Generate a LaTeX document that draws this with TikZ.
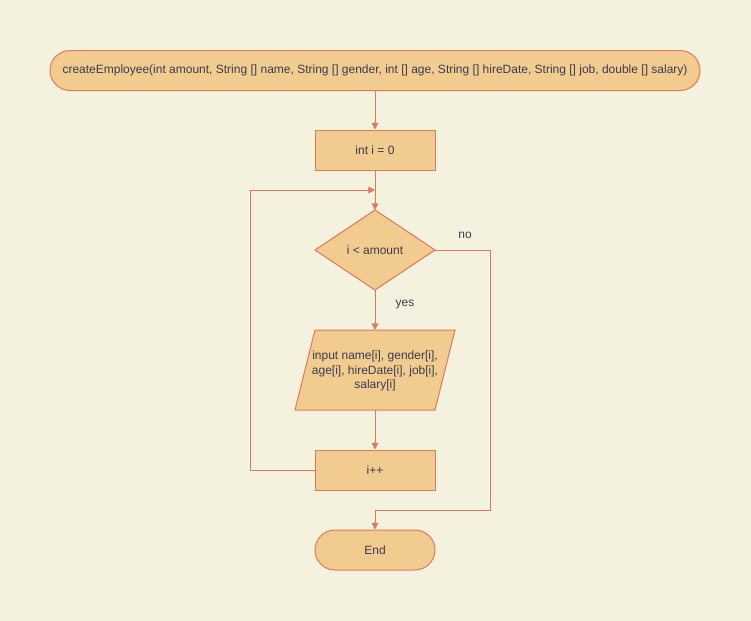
\documentclass[tikz,border=0pt]{standalone}
\usepackage{fontspec}
\setmainfont{Liberation Sans}
\usetikzlibrary{arrows.meta}
\definecolor{bg}{HTML}{F4F1DE}
\definecolor{boxfill}{HTML}{F2CC8F}
\definecolor{boxline}{HTML}{E07A5F}
\definecolor{txt}{HTML}{393C56}
\tikzset{
  box/.style={draw=boxline, fill=boxfill, line width=0.75pt, text=txt, font=\fontsize{9}{10.5}\selectfont, inner sep=0pt, minimum height=30pt, minimum width=90pt},
  term/.style={box, rounded corners=15pt},
  conn/.style={draw=boxline, line width=0.75pt, -{Triangle[width=5pt,length=5pt]}},
  plain/.style={draw=boxline, line width=0.75pt},
  lbl/.style={text=txt, font=\fontsize{9}{10.5}\selectfont, inner sep=0pt}
}
\begin{document}
\begin{tikzpicture}[x=0.75pt,y=-0.75pt]
\fill[bg] (0,0) rectangle (751,621);
\useasboundingbox (0,0) rectangle (751,621);
\node[term, minimum width=487.5pt] (start) at (375,70.5) {createEmployee(int amount, String [] name, String [] gender, int [] age, String [] hireDate, String [] job, double [] salary)};
\node[box] (init) at (375,150) {int i = 0};
\coordinate (dT) at (375,210);
\coordinate (dR) at (435,250);
\coordinate (dB) at (375,290);
\coordinate (dL) at (315,250);
\draw[plain, fill=boxfill] (dT) -- (dR) -- (dB) -- (dL) -- cycle;
\node[lbl] (cond) at (375,250.5) {i < amount};
\coordinate (pT) at (375,330);
\coordinate (pB) at (375,410);
\draw[plain, fill=boxfill] (315,330) -- (455,330) -- (435,410) -- (295,410) -- cycle;
\node[lbl, align=center, font=\fontsize{9}{11}\selectfont] (inp) at (375,371) {input name[i], gender[i],\\age[i], hireDate[i], job[i],\\salary[i]};
\node[box] (inc) at (375,470) {i++};
\node[term] (end) at (375,550) {End};
\coordinate (loopA) at (250,470);
\coordinate (loopB) at (250,190);
\coordinate (loopC) at (375,190);
\coordinate (noA) at (490,250);
\coordinate (noB) at (490,510);
\coordinate (noC) at (375,510);
\draw[conn] (start) -- (init);
\draw[conn] (init) -- (dT);
\draw[conn] (dB) -- (pT);
\draw[conn] (pB) -- (inc);
\draw[conn] (inc.west) -- (loopA) -- (loopB) -- (loopC);
\draw[conn] (dR) -- (noA) -- (noB) -- (noC) -- (end.north);
\node[lbl] (no) at (465,235) {no};
\node[lbl] (yes) at (405,305) {yes};
\end{tikzpicture}
\end{document}
